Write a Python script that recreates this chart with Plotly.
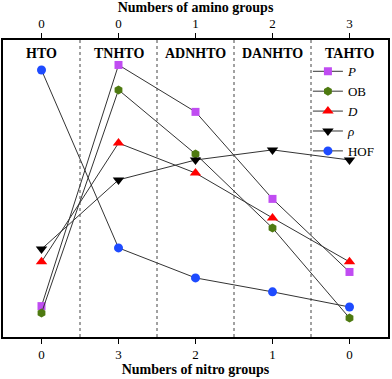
"""
Normalized properties of HTO derivatives vs. numbers of nitro / amino groups
"""

import plotly.graph_objects as go

compounds = ["HTO", "TNHTO", "ADNHTO", "DANHTO", "TAHTO"]
nitro_groups = ["0", "3", "2", "1", "0"]
amino_groups = ["0", "0", "1", "2", "3"]

# normalized values (0-100)
P = [10.4, 91.6, 75.8, 46.5, 21.9]
OB = [8.1, 83.2, 61.6, 36.7, 6.4]
D = [25.3, 65.3, 55.2, 40.1, 25.3]
rho = [29.6, 52.9, 59.6, 63.0, 59.6]
HOF = [89.9, 30.0, 19.9, 15.2, 10.1]

FONT = "Liberation Serif, Times New Roman, serif"
xs = list(range(len(compounds)))

fig = go.Figure()

series = [
    ("<i>P</i>", P, "square", "#C04CF2", 8),
    ("OB", OB, "hexagon", "#4E7A10", 9),
    ("<i>D</i>", D, "triangle-up", "#FF0000", 10),
    ("<i>ρ</i>", rho, "triangle-down", "#000000", 10),
    ("HOF", HOF, "circle", "#1E4BFF", 9),
]
for name, vals, sym, col, sz in series:
    fig.add_trace(go.Scatter(
        x=xs, y=vals, name=name, mode="lines+markers",
        line=dict(color="#333333", width=1),
        marker=dict(symbol=sym, color=col, size=sz, line=dict(width=0)),
    ))

# invisible trace to drive the top axis
fig.add_trace(go.Scatter(x=xs, y=P, xaxis="x2", mode="markers",
                         marker=dict(opacity=0), showlegend=False, hoverinfo="skip"))

# dashed separators between compounds
for i in range(len(compounds) - 1):
    fig.add_shape(type="line", x0=i + 0.5, x1=i + 0.5, y0=0, y1=1, yref="paper",
                  line=dict(color="#444444", width=1, dash="3px,3px"))

# compound labels
for i, c in enumerate(compounds):
    fig.add_annotation(x=i, y=0.955, yref="paper", yanchor="middle", text=f"<b>{c}</b>",
                       showarrow=False, font=dict(family=FONT, size=14, color="black"))

fig.update_layout(
    width=392, height=379,
    margin=dict(l=3, r=2, t=40, b=42),
    paper_bgcolor="white", plot_bgcolor="white",
    font=dict(family=FONT, size=13, color="black"),
    xaxis=dict(range=[-0.5, 4.5], tickvals=xs, ticktext=nitro_groups,
               ticks="outside", ticklen=5, tickcolor="black",
               showline=True, linecolor="black", linewidth=1.5, showgrid=False, zeroline=False,
               title=dict(text="<b>Numbers of nitro groups</b>", font=dict(size=14), standoff=2)),
    xaxis2=dict(range=[-0.5, 4.5], tickvals=xs, ticktext=amino_groups, overlaying="x", side="top",
                ticks="outside", ticklen=5, tickcolor="black",
                showline=True, linecolor="black", linewidth=1.5, showgrid=False, zeroline=False,
                title=dict(text="<b>Numbers of amino groups</b>", font=dict(size=14), standoff=2)),
    yaxis=dict(range=[0, 100], showticklabels=False, ticks="", showgrid=False, zeroline=False,
               showline=True, mirror=True, linecolor="black", linewidth=1.5),
    legend=dict(x=0.792, y=0.945, xanchor="left", yanchor="top", bgcolor="rgba(0,0,0,0)",
                font=dict(family=FONT, size=13), tracegroupgap=0),
    showlegend=True,
)

fig.write_html("out.html", config={"displayModeBar": False},
               post_script="document.body.style.margin='0';")
